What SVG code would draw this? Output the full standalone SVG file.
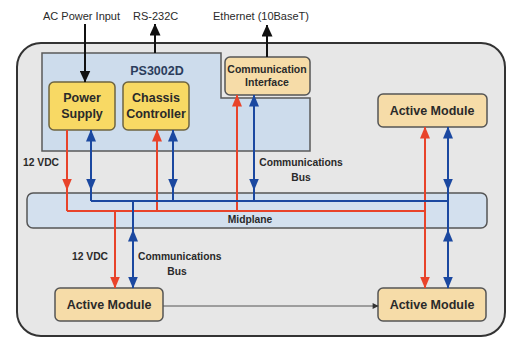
<svg xmlns="http://www.w3.org/2000/svg" width="513" height="339" viewBox="0 0 513 339">
<defs>
<marker id="ab" viewBox="0 0 12 10" refX="11.5" refY="5" markerWidth="12" markerHeight="10" markerUnits="userSpaceOnUse" orient="auto-start-reverse"><path d="M0,0 L12,5 L0,10 z" fill="#1b48a0"/></marker>
<marker id="ar" viewBox="0 0 12 10" refX="11.5" refY="5" markerWidth="12" markerHeight="10" markerUnits="userSpaceOnUse" orient="auto-start-reverse"><path d="M0,0 L12,5 L0,10 z" fill="#e8432a"/></marker>
<marker id="ak" viewBox="0 0 12 11" refX="11.5" refY="5.5" markerWidth="12" markerHeight="11" markerUnits="userSpaceOnUse" orient="auto-start-reverse"><path d="M0,0 L12,5.5 L0,11 z" fill="#111"/></marker>
<marker id="ag" viewBox="0 0 10 10" refX="9" refY="5" markerWidth="7" markerHeight="6" markerUnits="userSpaceOnUse" orient="auto"><path d="M0,0 L10,5 L0,10 z" fill="#333"/></marker>
</defs>
<style>
text{font-family:"Liberation Sans",Arial,sans-serif;fill:#2a2a2a}
.ext{font-size:11px}
.box{font-size:12.5px;font-weight:bold;text-anchor:middle}
.lbl{font-size:10.3px;font-weight:bold}
.yel{fill:#f8d964;stroke:#6e6440;stroke-width:1.5}
.bei{fill:#f6dca8;stroke:#555;stroke-width:1.5}
.b{stroke:#1b48a0;stroke-width:2;fill:none}
.r{stroke:#e8432a;stroke-width:2;fill:none}
.k{stroke:#111;stroke-width:2;fill:none}
</style>
<rect width="513" height="339" fill="#fff"/>
<g id="chassis">
<rect x="17" y="43" width="488" height="293" rx="24" fill="#e7e7e7" stroke="#333" stroke-width="2"/>
</g>
<g id="ps3002d">
<path d="M42,53 H221 V98 H310 V151 H42 Z" fill="#cddcec" stroke="#5a5a5a" stroke-width="1.5"/>
<text x="157" y="75" class="box" style="fill:#2c3d5c">PS3002D</text>
</g>
<g id="midplane">
<rect x="27" y="193" width="460" height="35" rx="6" fill="#d3e0ee" stroke="#555" stroke-width="1.5"/>
<text x="250" y="223" class="lbl" text-anchor="middle">Midplane</text>
</g>
<g id="power-supply">
<rect x="49" y="82" width="66" height="48" rx="5" class="yel"/>
<text x="82" y="102" class="box">Power</text>
<text x="82" y="118" class="box">Supply</text>
</g>
<g id="chassis-controller">
<rect x="123" y="82" width="66" height="48" rx="5" class="yel"/>
<text x="156" y="102" class="box">Chassis</text>
<text x="156" y="118" class="box">Controller</text>
</g>
<g id="comm-interface">
<rect x="225" y="57" width="85" height="38" rx="5" class="bei"/>
<text x="267" y="73" class="box" style="font-size:10.5px">Communication</text>
<text x="267" y="86" class="box" style="font-size:10.5px">Interface</text>
</g>
<g id="active-module-top">
<rect x="378" y="94" width="109" height="33" rx="5" class="bei"/>
<text x="432" y="115" class="box">Active Module</text>
</g>
<g id="active-module-bl">
<rect x="55" y="288" width="108" height="33" rx="5" class="bei"/>
<text x="109" y="309" class="box">Active Module</text>
</g>
<g id="active-module-br">
<rect x="378" y="288" width="108" height="33" rx="5" class="bei"/>
<text x="432" y="309" class="box">Active Module</text>
</g>
<g id="connectors">
<path class="k" d="M85,24 V82" marker-end="url(#ak)"/>
<path class="k" d="M155,53 V24" marker-end="url(#ak)"/>
<path class="k" d="M267,57 V25" marker-end="url(#ak)"/>
<path class="r" d="M67,211 H425"/>
<path class="r" d="M67,130 V190" marker-end="url(#ar)"/>
<path class="r" d="M67,190 V211"/>
<path class="r" d="M157,211 V130" marker-end="url(#ar)"/>
<path class="r" d="M237,211 V95" marker-end="url(#ar)"/>
<path class="r" d="M425,211 V127" marker-end="url(#ar)"/>
<path class="r" d="M425,211 V288" marker-end="url(#ar)"/>
<path class="r" d="M115,211 V288" marker-end="url(#ar)"/>
<path class="b" d="M91,201 H448"/>
<path class="b" d="M91,130 V190" marker-start="url(#ab)" marker-end="url(#ab)"/>
<path class="b" d="M91,190 V201"/>
<path class="b" d="M173,130 V190" marker-start="url(#ab)" marker-end="url(#ab)"/>
<path class="b" d="M173,190 V201"/>
<path class="b" d="M254,95 V190" marker-start="url(#ab)" marker-end="url(#ab)"/>
<path class="b" d="M254,190 V201"/>
<path class="b" d="M448,127 V190" marker-start="url(#ab)" marker-end="url(#ab)"/>
<path class="b" d="M448,190 V230"/>
<path class="b" d="M448,230 V288" marker-start="url(#ab)" marker-end="url(#ab)"/>
<path class="b" d="M133,201 V230"/>
<path class="b" d="M133,230 V288" marker-start="url(#ab)" marker-end="url(#ab)"/>
<path d="M163,306 H378" stroke="#555" stroke-width="1" fill="none" marker-end="url(#ag)"/>
</g>
<g id="labels">
<text x="43" y="20" class="ext">AC Power Input</text>
<text x="133" y="20" class="ext">RS-232C</text>
<text x="213" y="20" class="ext">Ethernet (10BaseT)</text>
<text x="23" y="166" class="lbl">12 VDC</text>
<text x="301" y="166" class="lbl" text-anchor="middle">Communications</text>
<text x="301" y="181" class="lbl" text-anchor="middle">Bus</text>
<text x="72" y="260" class="lbl">12 VDC</text>
<text x="138" y="260" class="lbl">Communications</text>
<text x="177" y="275" class="lbl" text-anchor="middle">Bus</text>
</g>
</svg>
